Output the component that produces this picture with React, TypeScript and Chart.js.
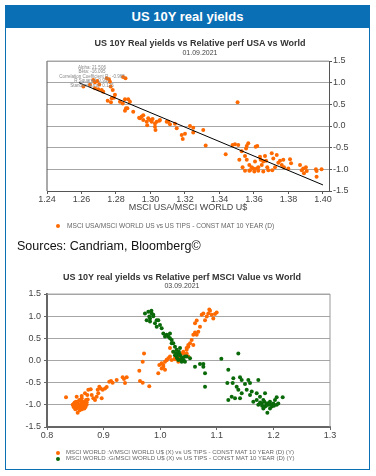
import React, { useEffect, useRef } from "react";
import { Chart, registerables } from "chart.js";
Chart.register(...registerables);

const FONT = "'Liberation Sans', Arial, sans-serif";

// ---------- Top chart: MSCI USA / MSCI World vs US 10Y real yields ----------
const usaX = [
  1.2611, 1.2649, 1.2668, 1.2678, 1.2692, 1.2703, 1.2678, 1.2697, 1.2717, 1.2726,
  1.2746, 1.2759, 1.2765, 1.2769, 1.2781, 1.2794, 1.2775, 1.2752, 1.2771, 1.2788,
  1.2823, 1.2839, 1.2852, 1.2871, 1.2881, 1.2858, 1.2852, 1.2866, 1.29, 1.2939,
  1.2949, 1.2958, 1.2978, 1.2987, 1.2997, 1.3007, 1.3012, 1.3026, 1.3036, 1.3051,
  1.3026, 1.2981, 1.2958, 1.2934, 1.3103, 1.3029, 1.2841, 1.2855,
  1.3055, 1.3094, 1.3113, 1.3142, 1.3152, 1.3181, 1.32, 1.3187, 1.3229, 1.3248,
  1.3248, 1.3306, 1.332, 1.3436, 1.3505, 1.3476, 1.349, 1.3509, 1.3529, 1.3515,
  1.3548, 1.3534, 1.3548, 1.3558, 1.3567, 1.3554, 1.3558, 1.3573, 1.3577, 1.3596,
  1.3606, 1.361, 1.3619, 1.3616, 1.3625, 1.3635, 1.3639, 1.3654, 1.3645, 1.3664,
  1.367, 1.3677, 1.3683, 1.3625, 1.3602, 1.3703, 1.3712, 1.3722, 1.3732, 1.3741,
  1.3751, 1.3761, 1.377, 1.3774, 1.3799, 1.3809, 1.3815, 1.3867, 1.3877, 1.3886,
  1.3901, 1.3906, 1.389, 1.3959, 1.3963, 1.3963, 1.3992, 1.3706, 1.3654, 1.3573,
  1.3587,
];
const usaY = [
  0.91, 0.95, 1.06, 1.01, 1.04, 0.96, 0.87, 0.85, 0.83, 0.79,
  1.1, 1.08, 1.02, 0.91, 0.83, 0.72, 0.64, 0.58, 0.55, 0.65,
  0.56, 0.52, 0.62, 0.62, 0.56, 0.41, 0.35, 0.41, 0.33, 0.18,
  0.22, 0.14, 0.1, 0.18, 0.14, 0.1, 0.16, 0.06, 0.1, 0.12,
  -0.02, 0.02, 0.25, 0.19, 0.1, -0.09, 1.13, 1.1,
  0.14, 0.1, 0.04, 0.05, -0.05, -0.21, -0.18, -0.3, 0.0, -0.04,
  -0.15, -0.09, -0.45, -0.65, 0.55, -0.44, -0.42, -0.44, -0.58, -0.78,
  -0.69, -0.95, -1.03, -0.46, -0.4, -0.52, -0.78, -0.9, -1.02, -0.98,
  -0.82, -0.48, -0.46, -0.98, -1.03, -0.71, -0.78, -0.82, -0.9, -0.69,
  -0.8, -0.95, -1.02, -0.95, -1.05, -0.63, -0.75, -0.95, -0.67, -0.85,
  -0.8, -0.9, -0.78, -0.95, -0.98, -0.77, -0.86, -0.9, -1.02, -0.98,
  -0.95, -1.04, -1.09, -1.0, -1.04, -1.17, -1.0, -1.02, -1.05, -1.03,
  -0.95,
];
const trendX = [1.2585, 1.4];
const trendY = [1.0, -1.36];
const topXTicks = [1.24, 1.26, 1.28, 1.3, 1.32, 1.34, 1.36, 1.38, 1.4];
const yTicks = [-1.5, -1.0, -0.5, 0.0, 0.5, 1.0, 1.5];
const statLines = [
  "Alpha: 21.506",
  "Beta: -16.095",
  "Correlation Coefficient R : -0.965",
  "R Squared: 0.931",
  "Standard Error: 0.125",
];

// ---------- Bottom chart: MSCI Value / Growth vs World ----------
const valueX = [
  0.8336, 0.8454, 0.8477, 0.8495, 0.8512, 0.8524, 0.8542, 0.8553, 0.8571, 0.8583,
  0.8601, 0.8613, 0.8631, 0.8642, 0.866, 0.8671, 0.8689, 0.8701, 0.8524, 0.8613,
  0.8671, 0.8712, 0.873, 0.8772, 0.879, 0.8818, 0.8848, 0.8878, 0.8896, 0.8906,
  0.8924, 0.8948, 0.8966, 0.8984, 0.9025, 0.9055, 0.91, 0.9131, 0.916, 0.9231,
  0.9337, 0.936, 0.9378, 0.9408, 0.9631, 0.9643, 0.9691, 0.9691, 0.9714, 0.9807,
  0.9966, 1.0025, 1.0055, 1.0114, 1.0173, 1.0261, 1.032, 1.0408, 1.0467, 1.0496,
  1.0026, 1.0055, 1.0085, 1.0143, 1.0203, 1.0261, 1.032, 1.038, 1.0408, 1.0468,
  1.0497, 1.0527, 1.0556, 1.0585, 1.0615, 1.0645, 1.0673, 1.0703, 1.0615, 1.0645,
  1.0733, 1.0762, 1.0792, 1.0822, 1.085, 1.088, 1.091, 1.0938, 1.0968, 1.0998,
  1.0868, 1.0585, 1.0468, 1.0497, 1.0408, 1.0231, 1.0173, 1.0115, 1.0085, 0.9984,
  0.849, 0.853, 0.856, 0.859, 0.862, 0.865, 0.858, 0.85, 0.862, 0.868,
  0.847, 0.8545, 0.86, 0.87, 0.872,
];
const valueY = [
  -0.83, -1.0, -0.97, -1.04, -0.93, -1.08, -1.18, -1.0, -0.89, -1.06,
  -0.97, -0.85, -1.03, -0.93, -1.08, -0.98, -0.89, -1.0, -0.82, -0.8,
  -0.74, -0.78, -0.66, -0.65, -0.78, -0.85, -0.89, -0.82, -0.66, -0.74,
  -0.59, -0.63, -0.85, -0.66, -0.63, -0.6, -0.48, -0.46, -0.5, -0.44,
  -0.38, -0.42, -0.51, -0.38, -0.23, -0.46, -0.5, -0.03, 0.16, -0.58,
  -0.29, -0.06, -0.14, 0.01, 0.09, 0.03, -0.03, 0.16, 0.28, 0.35,
  -0.18, -0.1, -0.03, 0.05, 0.01, 0.05, 0.09, 0.16, 0.2, 0.24,
  0.31, 0.39, 0.46, 0.58, 0.63, 0.58, 0.65, 0.76, 0.84, 0.9,
  1.03, 1.06, 0.91, 0.99, 1.06, 1.12, 1.03, 0.95, 1.05, 1.08,
  1.15, 0.35, 0.16, 0.09, 0.01, 0.2, 0.28, 0.01, -0.21, -0.1,
  -0.95, -0.98, -1.05, -1.02, -0.95, -1.0, -1.12, -1.1, -1.1, -1.05,
  -1.05, -0.93, -0.91, -0.94, -0.88,
];
const growthX = [
  0.9731, 0.979, 0.985, 0.9807, 0.9878, 0.9761, 0.982, 0.9908, 0.9967, 0.9996,
  0.9938, 1.0026, 1.0055, 1.0115, 1.0173, 1.0143, 1.0203, 1.0231, 1.0261, 1.0291,
  1.032, 1.035, 1.038, 1.0408, 1.0438, 1.0291, 1.0231, 1.035, 0.9845, 0.9878,
  0.982, 0.9938, 1.0085, 1.0173, 1.0203, 1.032, 1.0261, 1.038, 1.0438, 1.0468,
  1.0527, 1.0615, 1.0703, 1.0762, 1.0762, 1.0792, 1.0792, 1.108, 1.138, 1.1203,
  1.1292, 1.141, 1.144, 1.1557, 1.1733, 1.1186, 1.1281, 1.1351, 1.138, 1.1498,
  1.1587, 1.1528, 1.1617, 1.1587, 1.144, 1.1263, 1.1203, 1.1322, 1.141, 1.1705,
  1.1763, 1.1852, 1.1645, 1.1705, 1.1733, 1.1793, 1.1822, 1.1852, 1.1882, 1.1893,
  1.191, 1.194, 1.197, 1.1998, 1.2028, 1.2058, 1.2087, 1.2164, 1.2058, 1.1822,
  1.194, 1.1765, 1.18, 1.187, 1.192, 1.196, 1.201, 1.184, 1.03, 1.034,
  1.036, 1.04, 1.042, 1.033, 1.028,
];
const growthY = [
  1.06, 1.1, 1.06, 0.99, 1.03, 0.91, 0.88, 0.84, 0.91, 0.8,
  0.76, 0.73, 0.61, 0.58, 0.61, 0.54, 0.46, 0.39, 0.31, 0.24,
  0.16, 0.12, 0.05, 0.01, 0.09, 0.09, 0.2, 0.28, 1.12, 1.0,
  0.95, 0.91, 0.54, 0.5, 0.39, 0.01, 0.12, -0.03, -0.03, 0.09,
  0.05, -0.14, -0.08, -0.08, -0.14, -0.29, -0.59, 0.04, 0.16, -0.21,
  -0.4, -0.38, -0.44, -0.44, -0.44, -0.51, -0.51, -0.59, -0.66, -0.53,
  -0.51, -0.66, -0.7, -0.78, -0.74, -0.82, -0.89, -0.85, -0.85, -0.74,
  -0.82, -0.74, -0.93, -0.89, -1.0, -0.97, -0.89, -1.04, -0.97, -1.18,
  -1.0, -0.93, -1.04, -0.97, -0.89, -1.0, -0.97, -0.83, -0.83, -1.08,
  -1.08, -0.95, -1.02, -1.02, -0.96, -1.0, -1.02, -0.93, 0.05, 0.14,
  0.03, 0.07, -0.01, 0.2, 0.17,
];
const botXTicks = [0.8, 0.9, 1.0, 1.1, 1.2, 1.3];

const ORANGE = "#ff6a00";
const GREEN = "#0a6a0a";
const BLUE = "#0b6fb5";

const pts = (xs: number[], ys: number[]) => xs.map((x, i) => ({ x, y: ys[i] }));

const framePlugin = {
  id: "frame",
  beforeDatasetsDraw(chart: any, _args: any, opts: any) {
    const { ctx, chartArea: a } = chart;
    ctx.save();
    const line = (x1: number, y1: number, x2: number, y2: number, c: string, w: number) => {
      ctx.beginPath();
      ctx.strokeStyle = c;
      ctx.lineWidth = w;
      ctx.moveTo(x1, y1);
      ctx.lineTo(x2, y2);
      ctx.stroke();
    };
    if (opts.left) line(a.left, a.top, a.left, a.bottom, opts.left, 1);
    if (opts.right) line(a.right, a.top, a.right, a.bottom, opts.right, 1);
    if (opts.top) line(a.left, a.top, a.right, a.top, opts.top, 1);
    ctx.restore();
  },
};

const tickFont = { family: FONT, size: 9 };

export default function App() {
  const topRef = useRef<HTMLCanvasElement>(null);
  const botRef = useRef<HTMLCanvasElement>(null);

  useEffect(() => {
    const top = new Chart(topRef.current!, {
      type: "scatter",
      data: {
        datasets: [
          {
            type: "line",
            data: pts(trendX, trendY),
            borderColor: "#000",
            borderWidth: 1,
            pointRadius: 0,
            fill: false,
          } as any,
          {
            data: pts(usaX, usaY),
            backgroundColor: ORANGE,
            borderWidth: 0,
            pointRadius: 2,
          },
        ],
      },
      options: {
        animation: false,
        responsive: false,
        events: [],
        layout: { padding: { left: 47, top: 61, right: 0, bottom: 0 } },
        plugins: {
          legend: { display: false },
          tooltip: { enabled: false },
          frame: { left: "#555", top: "#a6a6a6" },
        } as any,
        scales: {
          x: {
            type: "linear",
            position: "bottom",
            min: 1.24,
            max: 1.4035,
            afterBuildTicks: (s: any) => {
              s.ticks = topXTicks.map((v) => ({ value: v }));
            },
            afterFit: (s: any) => {
              s.height = 49;
            },
            grid: { drawOnChartArea: false, color: "#555", tickLength: 3 },
            border: { color: "#555", width: 1 },
            ticks: {
              font: tickFont,
              color: "#444",
              padding: 0,
              maxRotation: 0,
              autoSkip: false,
              callback: (v: any) => Number(v).toFixed(2),
            },
          },
          y: {
            type: "linear",
            position: "right",
            min: -1.5,
            max: 1.5,
            afterBuildTicks: (s: any) => {
              s.ticks = yTicks.map((v) => ({ value: v }));
            },
            afterFit: (s: any) => {
              s.width = 47;
            },
            grid: { color: "#a6a6a6", tickColor: "#555", tickLength: 3 },
            border: { color: "#555", width: 1 },
            ticks: {
              font: tickFont,
              color: "#444",
              padding: 1,
              callback: (v: any) => Number(v).toFixed(1),
            },
          },
        },
      } as any,
      plugins: [framePlugin],
    });

    const bot = new Chart(botRef.current!, {
      type: "scatter",
      data: {
        datasets: [
          {
            data: pts(growthX, growthY),
            backgroundColor: GREEN,
            borderWidth: 0,
            pointRadius: 2,
          },
          {
            data: pts(valueX, valueY),
            backgroundColor: ORANGE,
            borderWidth: 0,
            pointRadius: 2,
          },
        ],
      },
      options: {
        animation: false,
        responsive: false,
        events: [],
        layout: { padding: { left: 0, top: 34, right: 46, bottom: 0 } },
        plugins: {
          legend: { display: false },
          tooltip: { enabled: false },
          frame: { right: "#999", top: "#a6a6a6" },
        } as any,
        scales: {
          x: {
            type: "linear",
            position: "bottom",
            min: 0.8,
            max: 1.3,
            afterBuildTicks: (s: any) => {
              s.ticks = botXTicks.map((v) => ({ value: v }));
            },
            afterFit: (s: any) => {
              s.height = 43;
            },
            grid: { drawOnChartArea: false, color: "#666", tickLength: 3 },
            border: { color: "#666", width: 2 },
            ticks: {
              font: tickFont,
              color: "#444",
              padding: 0,
              maxRotation: 0,
              autoSkip: false,
              callback: (v: any) => Number(v).toFixed(1),
            },
          },
          y: {
            type: "linear",
            position: "left",
            min: -1.5,
            max: 1.5,
            afterBuildTicks: (s: any) => {
              s.ticks = yTicks.map((v) => ({ value: v }));
            },
            afterFit: (s: any) => {
              s.width = 47;
            },
            grid: { color: "#a6a6a6", tickColor: "#666", tickLength: 3 },
            border: { color: "#666", width: 2 },
            ticks: {
              font: tickFont,
              color: "#444",
              padding: 3,
              callback: (v: any) => Number(v).toFixed(1),
            },
          },
        },
      } as any,
      plugins: [framePlugin],
    });

    return () => {
      top.destroy();
      bot.destroy();
    };
  }, []);

  const abs = (o: React.CSSProperties): React.CSSProperties => ({ position: "absolute", ...o });
  const tiny: React.CSSProperties = { fontFamily: FONT, color: "#666", whiteSpace: "nowrap" };

  return (
    <div style={abs({ left: 0, top: 0, width: 376, height: 476, background: "#fff", fontFamily: FONT })}>
      <div
        style={abs({
          left: 5,
          top: 5,
          width: 365,
          height: 23,
          background: BLUE,
          color: "#fff",
          fontWeight: "bold",
          fontSize: 13,
          lineHeight: "23px",
          textAlign: "center",
        })}
      >
        US 10Y real yields
      </div>
      <div
        style={abs({
          left: 5,
          top: 28,
          width: 365,
          height: 442,
          boxSizing: "border-box",
          borderLeft: `1.5px solid ${BLUE}`,
          borderRight: `1.5px solid ${BLUE}`,
          borderBottom: `1.5px solid ${BLUE}`,
        })}
      />
      <canvas ref={topRef} width={376} height={240} style={abs({ left: 0, top: 0, width: 376, height: 240 })} />
      <canvas ref={botRef} width={376} height={210} style={abs({ left: 0, top: 260, width: 376, height: 210 })} />

      {/* Top chart texts */}
      <div style={abs({ left: 0, width: 400, top: 38, textAlign: "center", fontSize: 9, fontWeight: "bold", color: "#333", lineHeight: "11px" })}>
        US 10Y Real yields vs Relative perf USA vs World
      </div>
      <div style={abs({ left: 0, width: 400, top: 49, textAlign: "center", fontSize: 7, color: "#444", lineHeight: "8px" })}>
        01.09.2021
      </div>
      {statLines.map((s, i) => (
        <div
          key={i}
          style={abs({ left: 42, width: 100, top: 64.5 + i * 4.5, textAlign: "center", fontSize: 4.5, color: "#888", lineHeight: "5px", whiteSpace: "nowrap" })}
        >
          {s}
        </div>
      ))}
      <div style={abs({ left: 47, width: 282, top: 202, textAlign: "center", fontSize: 9, color: "#444", lineHeight: "10px" })}>
        MSCI USA/MSCI WORLD U$
      </div>
      <div style={abs({ left: 55.5, top: 223.5, width: 4, height: 4, borderRadius: 2, background: ORANGE })} />
      <div style={abs({ ...tiny, left: 67, top: 221.5, fontSize: 6.6, lineHeight: "8px" })}>
        MSCI USA/MSCI WORLD US vs US TIPS - CONST MAT 10 YEAR (D)
      </div>
      <div style={abs({ left: 17, top: 239, fontSize: 12.5, color: "#111", lineHeight: "14px", whiteSpace: "nowrap" })}>
        Sources: Candriam, Bloomberg©
      </div>

      {/* Bottom chart texts */}
      <div style={abs({ left: 0, width: 364, top: 271.5, textAlign: "center", fontSize: 9, fontWeight: "bold", color: "#333", lineHeight: "11px" })}>
        US 10Y real yields vs Relative perf MSCI Value vs World
      </div>
      <div style={abs({ left: 0, width: 364, top: 282, textAlign: "center", fontSize: 7, color: "#444", lineHeight: "8px" })}>
        03.09.2021
      </div>
      <div style={abs({ left: 55.5, top: 450.5, width: 4, height: 4, borderRadius: 2, background: ORANGE })} />
      <div style={abs({ ...tiny, left: 66, top: 449, fontSize: 6.1, lineHeight: "6px" })}>
        MSCI WORLD :V/MSCI WORLD U$ (X) vs US TIPS - CONST MAT 10 YEAR (D) (Y)
      </div>
      <div style={abs({ left: 55.5, top: 456.5, width: 4, height: 4, borderRadius: 2, background: GREEN })} />
      <div style={abs({ ...tiny, left: 66, top: 455, fontSize: 6.1, lineHeight: "6px" })}>
        MSCI WORLD :G/MSCI WORLD U$ (X) vs US TIPS - CONST MAT 10 YEAR (D) (Y)
      </div>
    </div>
  );
}
